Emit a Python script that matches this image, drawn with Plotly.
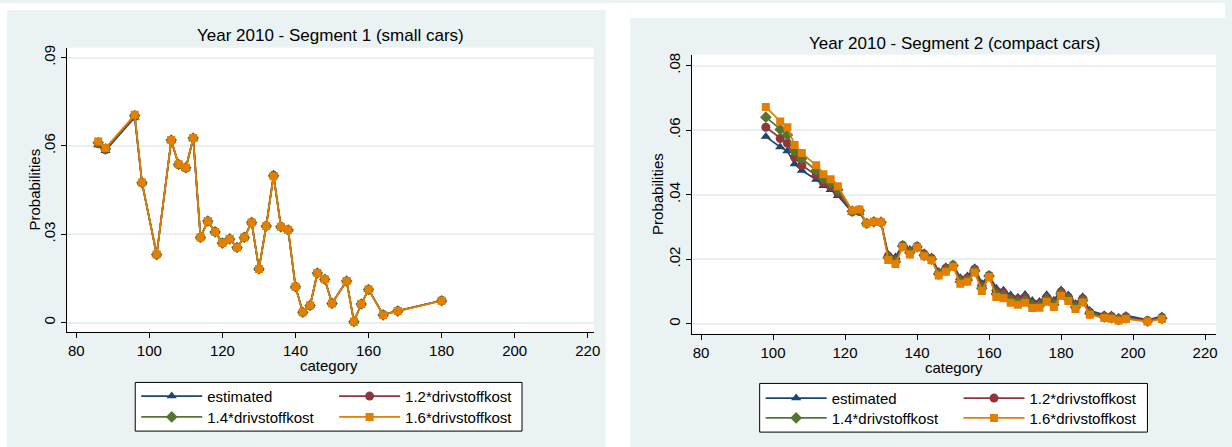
import plotly.graph_objects as go

W, H = 1232, 447

# ---------------- data ----------------
series_names = ["estimated", "1.2*drivstoffkost", "1.4*drivstoffkost", "1.6*drivstoffkost"]
series_colors = ["#1A476F", "#90353B", "#55752F", "#E37E00"]
series_symbols = ["triangle-up", "circle", "diamond", "square"]
series_sizes = [9, 9, 9, 8]

titles = ["Year 2010 - Segment 1 (small cars)", "Year 2010 - Segment 2 (compact cars)"]
x_title = "category"
y_title = "Probabilities"
x_tickvals = [80, 100, 120, 140, 160, 180, 200, 220]
y1_tickvals = [0, 0.03, 0.06, 0.09]
y1_ticktext = ["0", ".03", ".06", ".09"]
y2_tickvals = [0, 0.02, 0.04, 0.06, 0.08]
y2_ticktext = ["0", ".02", ".04", ".06", ".08"]

# Segment 1 (small cars)
s1_category = [86, 88, 96, 98, 102, 106, 108, 110, 112, 114, 116, 118, 120, 122, 124, 126, 128,
               130, 132, 134, 136, 138, 140, 142, 144, 146, 148, 150, 154, 156, 158, 160, 164, 168, 180]
s1_estimated = [0.0603, 0.0584, 0.0697, 0.0474, 0.0232, 0.0618, 0.0536, 0.0524, 0.0625, 0.0290,
                0.0344, 0.0309, 0.0271, 0.0284, 0.0256, 0.0290, 0.0340, 0.0183, 0.0329, 0.0501,
                0.0326, 0.0315, 0.0122, 0.0036, 0.0058, 0.0168, 0.0147, 0.0066, 0.0141, 0.0004,
                0.0063, 0.0112, 0.0027, 0.0040, 0.0075]
s1_x12 = [0.0607, 0.0587, 0.0700, 0.0475, 0.0231, 0.0619, 0.0537, 0.0525, 0.0626, 0.0290,
          0.0345, 0.0309, 0.0271, 0.0284, 0.0256, 0.0290, 0.0340, 0.0183, 0.0329, 0.0500,
          0.0326, 0.0315, 0.0122, 0.0035, 0.0058, 0.0168, 0.0147, 0.0066, 0.0141, 0.0003,
          0.0063, 0.0112, 0.0027, 0.0040, 0.0075]
s1_x14 = [0.0611, 0.0590, 0.0703, 0.0475, 0.0231, 0.0620, 0.0537, 0.0526, 0.0627, 0.0289,
          0.0345, 0.0308, 0.0270, 0.0284, 0.0255, 0.0289, 0.0340, 0.0182, 0.0328, 0.0499,
          0.0325, 0.0314, 0.0122, 0.0035, 0.0058, 0.0168, 0.0147, 0.0065, 0.0141, 0.0003,
          0.0063, 0.0112, 0.0026, 0.0039, 0.0074]
s1_x16 = [0.0615, 0.0593, 0.0706, 0.0476, 0.0231, 0.0620, 0.0538, 0.0526, 0.0627, 0.0289,
          0.0345, 0.0308, 0.0270, 0.0284, 0.0255, 0.0289, 0.0340, 0.0182, 0.0328, 0.0497,
          0.0325, 0.0314, 0.0122, 0.0035, 0.0058, 0.0168, 0.0147, 0.0065, 0.0141, 0.0003,
          0.0063, 0.0112, 0.0026, 0.0039, 0.0074]

# Segment 2 (compact cars)
s2_category = [98, 102, 104, 106, 108, 112, 114, 116, 118, 122, 124, 126, 128, 130, 132, 134,
               136, 138, 140, 142, 144, 146, 148, 150, 152, 154, 156, 158, 160, 162, 164, 166,
               168, 170, 172, 174, 176, 178, 180, 182, 184, 186, 188, 192, 194, 196, 198, 204, 208]
s2_estimated = [0.0580, 0.0548, 0.0535, 0.0495, 0.0475, 0.0447, 0.0428, 0.0415, 0.0397, 0.0345,
                0.0345, 0.0311, 0.0316, 0.0315, 0.0215, 0.0207, 0.0246, 0.0230, 0.0242, 0.0220,
                0.0207, 0.0162, 0.0177, 0.0184, 0.0143, 0.0148, 0.0174, 0.0125, 0.0153, 0.0110,
                0.0104, 0.0089, 0.0082, 0.0091, 0.0072, 0.0069, 0.0090, 0.0073, 0.0105, 0.0089,
                0.0063, 0.0084, 0.0041, 0.0028, 0.0027, 0.0020, 0.0026, 0.0012, 0.0024]
s2_x12 = [0.0609, 0.0574, 0.0559, 0.0516, 0.0491, 0.0460, 0.0437, 0.0425, 0.0405, 0.0347,
          0.0348, 0.0311, 0.0316, 0.0315, 0.0210, 0.0200, 0.0243, 0.0225, 0.0240, 0.0216,
          0.0203, 0.0158, 0.0172, 0.0182, 0.0137, 0.0142, 0.0169, 0.0118, 0.0150, 0.0101,
          0.0096, 0.0081, 0.0075, 0.0082, 0.0064, 0.0062, 0.0082, 0.0066, 0.0099, 0.0083,
          0.0057, 0.0078, 0.0036, 0.0024, 0.0023, 0.0016, 0.0022, 0.0010, 0.0020]
s2_x14 = [0.0640, 0.0602, 0.0585, 0.0535, 0.0512, 0.0475, 0.0450, 0.0436, 0.0415, 0.0349,
          0.0351, 0.0311, 0.0316, 0.0315, 0.0205, 0.0192, 0.0241, 0.0220, 0.0238, 0.0212,
          0.0200, 0.0154, 0.0166, 0.0180, 0.0130, 0.0136, 0.0164, 0.0110, 0.0148, 0.0092,
          0.0087, 0.0073, 0.0067, 0.0073, 0.0056, 0.0056, 0.0075, 0.0059, 0.0093, 0.0077,
          0.0051, 0.0072, 0.0032, 0.0021, 0.0019, 0.0013, 0.0018, 0.0008, 0.0017]
s2_x16 = [0.0672, 0.0627, 0.0609, 0.0554, 0.0529, 0.0491, 0.0463, 0.0448, 0.0426, 0.0351,
          0.0354, 0.0311, 0.0316, 0.0315, 0.0198, 0.0185, 0.0238, 0.0215, 0.0237, 0.0209,
          0.0197, 0.0150, 0.0161, 0.0177, 0.0124, 0.0130, 0.0159, 0.0102, 0.0145, 0.0083,
          0.0079, 0.0065, 0.0059, 0.0065, 0.0049, 0.0050, 0.0068, 0.0052, 0.0087, 0.0071,
          0.0046, 0.0066, 0.0028, 0.0018, 0.0016, 0.0010, 0.0015, 0.0007, 0.0015]

# ---------------- layout helpers ----------------
def px(x):
    return x / W

def py(y):
    return 1 - y / H

FONT = "Liberation Sans, Arial, sans-serif"
BG = "#EAF2F3"
GRID = "#E6EFF1"

fig = go.Figure()

panels = [
    dict(x=s1_category, ys=[s1_estimated, s1_x12, s1_x14, s1_x16], xa="x", ya="y"),
    dict(x=s2_category, ys=[s2_estimated, s2_x12, s2_x14, s2_x16], xa="x2", ya="y2"),
]

# legend layout (pixel positions of each legend entry's origin)
legend_pos = [
    [(137, 396), (336, 396), (137, 417), (336, 417)],
    [(765, 398), (964, 398), (765, 418), (964, 418)],
]

legends = {}
k = 0
for p_i, p in enumerate(panels):
    for s_i in range(4):
        k += 1
        lname = "legend" if k == 1 else f"legend{k}"
        fig.add_trace(go.Scatter(
            x=p["x"], y=p["ys"][s_i], mode="lines+markers",
            name=series_names[s_i],
            line=dict(color=series_colors[s_i], width=1.7),
            marker=dict(symbol=series_symbols[s_i], size=series_sizes[s_i],
                        color=series_colors[s_i], line=dict(width=0)),
            xaxis=p["xa"], yaxis=p["ya"], legend=lname, showlegend=True,
        ))
        lx, ly = legend_pos[p_i][s_i]
        legends[lname] = dict(
            x=px(lx), y=py(ly), xanchor="left", yanchor="middle",
            bgcolor="rgba(0,0,0,0)", borderwidth=0, itemwidth=61,
            font=dict(family=FONT, size=15, color="black"),
            orientation="v",
        )

axis_common = dict(
    showline=True, linecolor="black", linewidth=1,
    ticks="outside", ticklen=5, tickcolor="black", tickwidth=1,
    tickfont=dict(family=FONT, size=15, color="black"),
    zeroline=False,
)

fig.update_layout(
    width=W, height=H, autosize=False,
    margin=dict(l=0, r=0, t=0, b=0),
    paper_bgcolor=BG, plot_bgcolor="white",
    font=dict(family=FONT, size=15, color="black"),
    xaxis=dict(domain=[px(67.7), px(597)], range=[77.55, 221.6], anchor="y",
               tickvals=x_tickvals, showgrid=False, **axis_common),
    yaxis=dict(domain=[py(331), py(45)], range=[-0.00314, 0.09337], anchor="x",
               tickvals=y1_tickvals, ticktext=y1_ticktext, tickangle=-90,
               showgrid=True, gridcolor=GRID, gridwidth=2, **axis_common),
    xaxis2=dict(domain=[px(696), px(1223)], range=[77.51, 223.04], anchor="y2",
                tickvals=x_tickvals, showgrid=False, **axis_common),
    yaxis2=dict(domain=[py(333), py(52)], range=[-0.00308, 0.08338], anchor="x2",
                tickvals=y2_tickvals, ticktext=y2_ticktext, tickangle=-90,
                showgrid=True, gridcolor=GRID, gridwidth=2, **axis_common),
    **legends,
)

# white gaps around the two panel backgrounds
white_rects = [(0, 0, 7, H), (0, 0, 609, 7), (609, 0, 634, H), (634, 0, W, 15)]
for (x0, y0, x1, y1) in white_rects:
    fig.add_shape(type="rect", xref="paper", yref="paper",
                  x0=px(x0), x1=px(x1), y0=py(y1), y1=py(y0),
                  fillcolor="white", line=dict(width=0), layer="below")

# legend boxes
legend_boxes = [(136, 382, 525, 431), (764, 383, 1154, 432)]
for (x0, y0, x1, y1) in legend_boxes:
    fig.add_shape(type="rect", xref="paper", yref="paper",
                  x0=px(x0), x1=px(x1), y0=py(y1), y1=py(y0),
                  fillcolor="white", line=dict(color="black", width=1), layer="below")

# panel titles
title_pos = [(332, 33), (959.5, 41)]
for t, (tx, ty) in zip(titles, title_pos):
    fig.add_annotation(text=t, x=px(tx), y=py(ty), xref="paper", yref="paper",
                       xanchor="center", yanchor="middle", showarrow=False,
                       font=dict(family=FONT, size=17, color="black"))

# axis titles
xtitle_pos = [(331, 365), (959.5, 367)]
for (tx, ty) in xtitle_pos:
    fig.add_annotation(text=x_title, x=px(tx), y=py(ty), xref="paper", yref="paper",
                       xanchor="center", yanchor="middle", showarrow=False,
                       font=dict(family=FONT, size=15, color="black"))
ytitle_pos = [(35, 188), (661, 192)]
for (tx, ty) in ytitle_pos:
    fig.add_annotation(text=y_title, x=px(tx), y=py(ty), xref="paper", yref="paper",
                       xanchor="center", yanchor="middle", showarrow=False, textangle=-90,
                       font=dict(family=FONT, size=15, color="black"))

fig.write_html("out.html", config={"displayModeBar": False},
               post_script="document.body.style.margin='0';")
